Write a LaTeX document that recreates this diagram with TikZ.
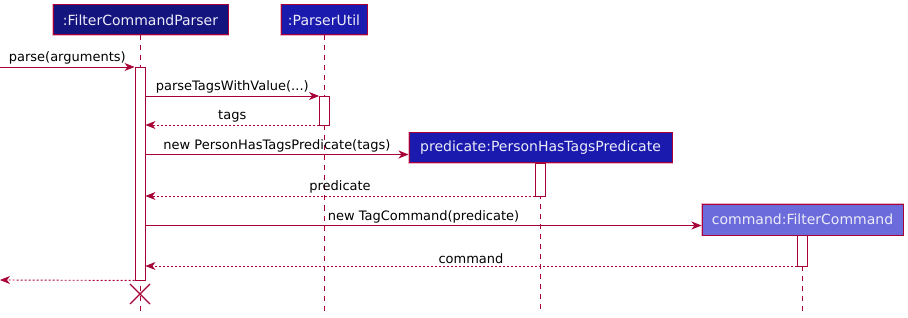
\documentclass[tikz,border=0pt]{standalone}
\usepackage{fontspec}
\setmainfont{DejaVu Sans}
\usetikzlibrary{arrows.meta}
\definecolor{umlred}{HTML}{A80036}
\definecolor{halo}{HTML}{EBB4C6}
\definecolor{navyA}{HTML}{14147F}
\definecolor{navyB}{HTML}{1A1AAE}
\definecolor{slateC}{HTML}{6B6BDB}
\definecolor{parttext}{HTML}{ECECF8}
\tikzset{
  part/.style={draw=umlred, line width=1pt, text=parttext, inner sep=0pt,
    minimum height=30pt, font=\fontsize{14}{16}\selectfont,
    preaction={draw=halo, line width=2.6pt}},
  act/.style={draw=umlred, fill=white, line width=0.9pt, minimum width=10pt,
    inner sep=0pt},
  lifeline/.style={draw=umlred, line width=0.9pt, dash pattern=on 5pt off 5pt},
  msg/.style={draw=umlred, line width=0.9pt,
    -{Stealth[length=10pt,width=8pt,inset=3pt]}},
  ret/.style={msg, dash pattern=on 2pt off 2pt},
  lbl/.style={midway, above, inner sep=2pt, text=black,
    font=\fontsize{13}{15}\selectfont}
}
\begin{document}
\begin{tikzpicture}[x=1pt,y=-1pt]
\useasboundingbox (0,0) rectangle (908,318);

% participants
\node[part, fill=navyA, minimum width=175pt] (fcp) at (140.5,20) {:FilterCommandParser};
\node[part, fill=navyB, minimum width=86pt] (pu) at (324,20) {:ParserUtil};
\node[part, fill=navyB, minimum width=263pt] (pred) at (540.5,148) {predicate:PersonHasTagsPredicate};
\node[part, fill=slateC, minimum width=201pt, minimum height=31pt] (cmd) at (802.5,219.5) {command:FilterCommand};

% lifeline ends
\coordinate (fcpEnd) at (140,311);
\coordinate (puEnd) at (324,311);
\coordinate (predEnd) at (540,311);
\coordinate (cmdEnd) at (802,311);

\draw[lifeline] (fcp.south -| fcpEnd) -- (fcpEnd);
\draw[lifeline] (pu.south -| puEnd) -- (puEnd);
\draw[lifeline] (pred.south -| predEnd) -- (predEnd);
\draw[lifeline] (cmd.south -| cmdEnd) -- (cmdEnd);

% activations
\node[act, minimum height=213pt] (a1) at (140,173.5) {};
\node[act, minimum height=29pt] (a2) at (324.5,110.5) {};
\node[act, minimum height=33pt] (a3) at (540,179.5) {};
\node[act, minimum height=31pt] (a4) at (802,250.5) {};

% message rows
\coordinate (entry) at (0,67);
\coordinate (r2) at (0,96);
\coordinate (r3) at (0,125);
\coordinate (r4) at (0,154.5);
\coordinate (r5) at (0,196);
\coordinate (r6) at (0,225.5);
\coordinate (r7) at (0,266);
\coordinate (exit) at (0,280);

\draw[msg] (entry) -- (entry -| a1.west) node[lbl] {parse(arguments)};
\draw[msg] (r2 -| a1.east) -- (r2 -| a2.west) node[lbl] {parseTagsWithValue(...)};
\draw[ret] (r3 -| a2.west) -- (r3 -| a1.east) node[lbl] {tags};
\draw[msg] (r4 -| a1.east) -- (r4 -| pred.west) node[lbl] {new PersonHasTagsPredicate(tags)};
\draw[ret] (r5 -| a3.west) -- (r5 -| a1.east) node[lbl] {predicate};
\draw[msg] (r6 -| a1.east) -- (r6 -| cmd.west) node[lbl] {new TagCommand(predicate)};
\draw[ret] (r7 -| a4.west) -- (r7 -| a1.east) node[lbl] {command};
\draw[ret] (a1.south west) -- (exit);

% destruction mark
\coordinate (dx) at (140,294);
\draw[umlred, line width=1.4pt] ([xshift=-10pt,yshift=10pt]dx) -- ([xshift=10pt,yshift=-10pt]dx)
  ([xshift=-10pt,yshift=-10pt]dx) -- ([xshift=10pt,yshift=10pt]dx);
\end{tikzpicture}
\end{document}
